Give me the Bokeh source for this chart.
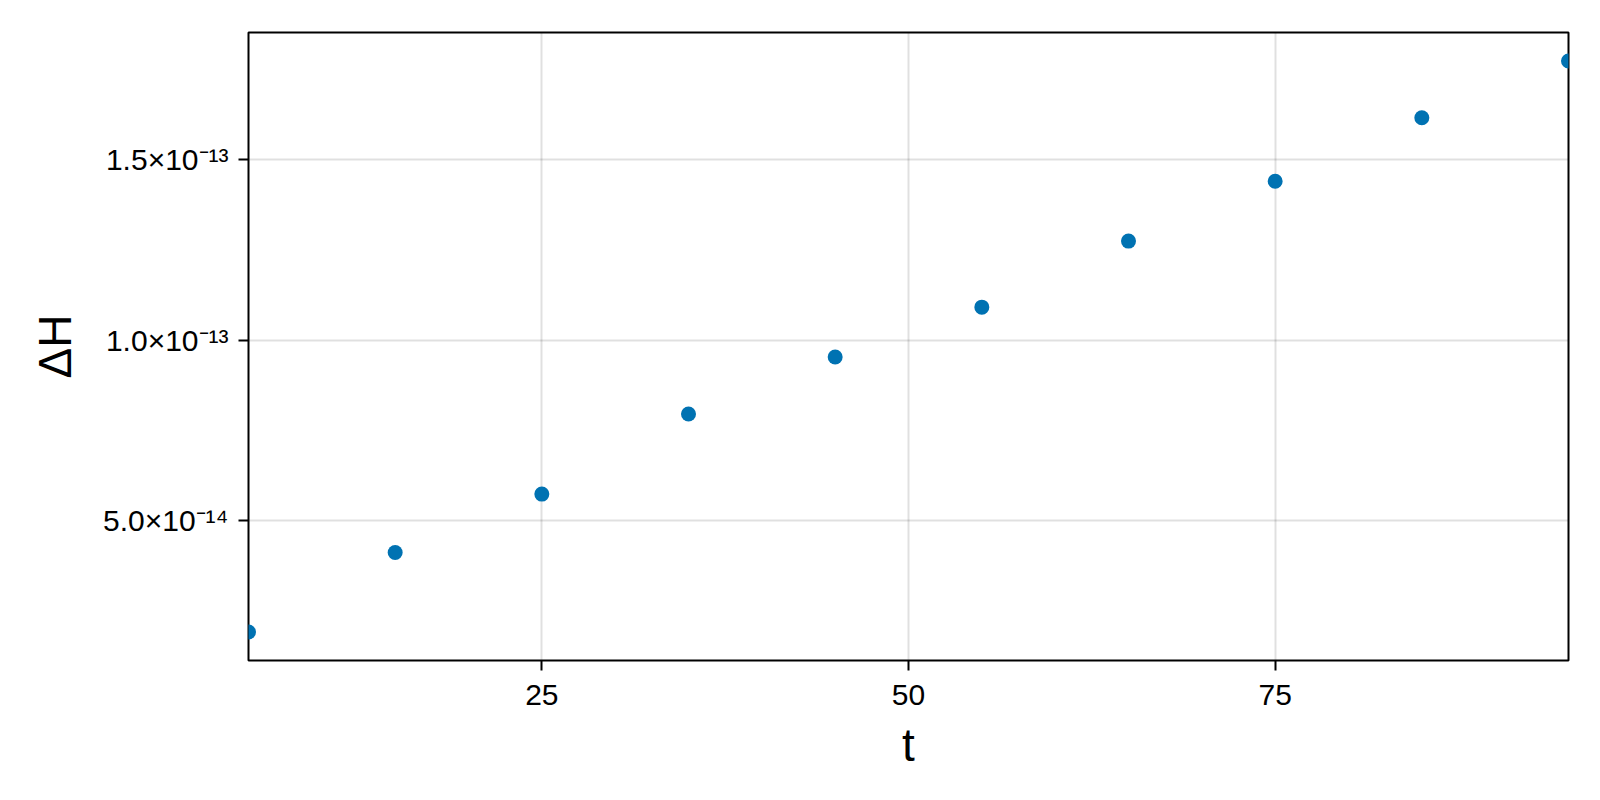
from bokeh.plotting import figure
from bokeh.models import FixedTicker, Range1d
from bokeh.embed import file_html
from bokeh.resources import INLINE

# data
t = [5, 15, 25, 35, 45, 55, 65, 75, 85, 95]
dH = [1.92e-14, 4.12e-14, 5.74e-14, 7.96e-14, 9.54e-14,
      1.092e-13, 1.275e-13, 1.441e-13, 1.617e-13, 1.774e-13]

x_ticks = [25, 50, 75]
y_ticks = [5e-14, 1e-13, 1.5e-13]
y_tick_labels = ["5.0×10⁻¹⁴", "1.0×10⁻¹³", "1.5×10⁻¹³"]

FONT = "Liberation Sans"

ymin, ymax = min(dH), max(dH)
pad = 0.05 * (ymax - ymin)

p = figure(
    frame_width=1320, frame_height=628,
    min_border_left=248, min_border_right=16, min_border_top=32, min_border_bottom=100,
    x_range=Range1d(min(t), max(t)),
    y_range=Range1d(ymin - pad, ymax + pad),
    output_backend="svg", toolbar_location=None,
)

p.scatter(t, dH, size=15, color="#0072B2", line_color=None)

p.outline_line_color = "black"
p.outline_line_width = 2
p.outline_line_alpha = 1.0

for ax in (p.xaxis[0], p.yaxis[0]):
    ax.axis_line_color = None
    ax.major_tick_line_color = "black"
    ax.major_tick_line_width = 2
    ax.major_tick_out = 10
    ax.major_tick_in = 0
    ax.minor_tick_line_color = None
    ax.major_label_text_font = FONT
    ax.major_label_text_font_size = "30px"
    ax.major_label_text_color = "black"
    ax.axis_label_text_font = FONT
    ax.axis_label_text_font_size = "46px"
    ax.axis_label_text_font_style = "normal"
    ax.axis_label_text_color = "black"

p.xaxis.major_label_standoff = 14
p.yaxis.major_label_standoff = 10

p.xaxis.ticker = FixedTicker(ticks=x_ticks)
p.yaxis.ticker = FixedTicker(ticks=y_ticks)
p.yaxis.major_label_overrides = {v: s for v, s in zip(y_ticks, y_tick_labels)}
p.xaxis.axis_label = "t"
p.yaxis.axis_label = "ΔH"
p.xaxis.axis_label_standoff = 11
p.yaxis.axis_label_standoff = 19

p.xgrid.grid_line_color = "black"
p.xgrid.grid_line_alpha = 0.12
p.xgrid.grid_line_width = 2
p.ygrid.grid_line_color = "black"
p.ygrid.grid_line_alpha = 0.12
p.ygrid.grid_line_width = 2

p.background_fill_color = "white"
p.border_fill_color = "white"

open("out.html", "w").write(file_html(p, INLINE))
